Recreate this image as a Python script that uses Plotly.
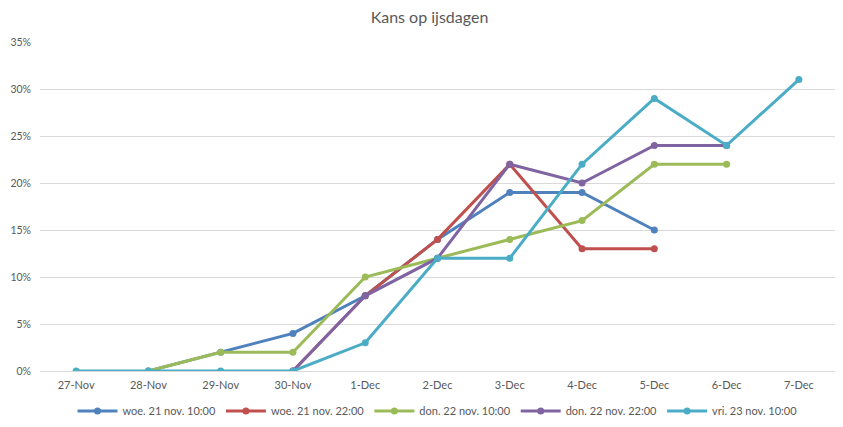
import plotly.graph_objects as go

# categories on the x axis
days = ["27-Nov", "28-Nov", "29-Nov", "30-Nov", "1-Dec", "2-Dec",
        "3-Dec", "4-Dec", "5-Dec", "6-Dec", "7-Dec"]

# forecast runs (fractions), None where the run has no value
woe_10 = [None, 0.00, 0.02, 0.04, 0.08, 0.14, 0.19, 0.19, 0.15, None, None]
woe_22 = [None, None, None, 0.00, 0.08, 0.14, 0.22, 0.13, 0.13, None, None]
don_10 = [None, 0.00, 0.02, 0.02, 0.10, 0.12, 0.14, 0.16, 0.22, 0.22, None]
don_22 = [None, None, None, 0.00, 0.08, 0.12, 0.22, 0.20, 0.24, 0.24, None]
vri_10 = [0.00, 0.00, 0.00, 0.00, 0.03, 0.12, 0.12, 0.22, 0.29, 0.24, 0.31]

names = ["woe. 21 nov. 10:00", "woe. 21 nov. 22:00", "don. 22 nov. 10:00",
         "don. 22 nov. 22:00", "vri. 23 nov. 10:00"]
colors = ["#4F81BD", "#C0504D", "#9BBB59", "#8064A2", "#4BACC6"]

fig = go.Figure()
for name, vals, col in zip(names, [woe_10, woe_22, don_10, don_22, vri_10], colors):
    fig.add_trace(go.Scatter(
        x=days, y=vals, name=name, mode="lines+markers",
        line=dict(color=col, width=3),
        marker=dict(color=col, size=7),
    ))

# the page puts the figure 8px in from the top-left corner
fig.update_layout(
    width=843, height=427,
    paper_bgcolor="white", plot_bgcolor="white",
    margin=dict(l=32, r=16, t=34, b=64),
    font=dict(family="Lato, Open Sans, sans-serif", color="#595959", size=11),
    title=dict(text="Kans op ijsdagen", x=0.5, xanchor="center", y=0.99,
               yanchor="top", font=dict(size=16, color="#595959")),
    legend=dict(orientation="h", x=0.5, xanchor="center",
                yref="container", y=0.056, yanchor="middle",
                font=dict(size=11, color="#595959"), itemwidth=40),
    showlegend=True,
)
fig.update_xaxes(type="category", range=[-0.5, 10.5], showgrid=False,
                 showline=True, linecolor="#D9D9D9", ticks="", zeroline=False,
                 automargin=False, ticklabelstandoff=4)
fig.update_yaxes(range=[0, 0.35], dtick=0.05, tickformat=".0%",
                 gridcolor="#D9D9D9", zeroline=False, showline=False, ticks="",
                 ticklabelstandoff=8, automargin=False,
                 tickfont=dict(size=10.5))

fig.write_html("out.html")
